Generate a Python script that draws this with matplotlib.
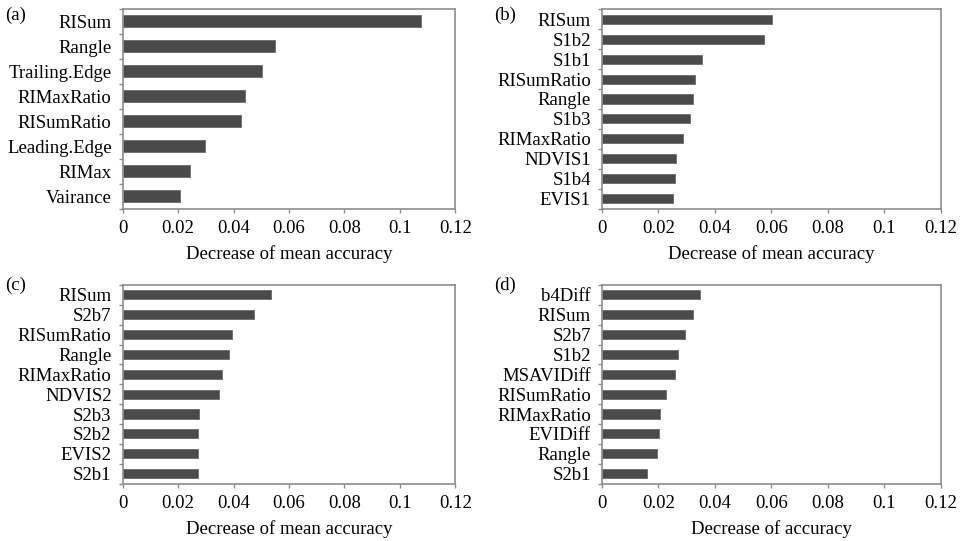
import matplotlib
matplotlib.use("Agg")
import matplotlib.pyplot as plt
import numpy as np

plt.rcParams['font.family'] = ['Liberation Serif', 'DejaVu Serif']

fs = 13.5
bar_color = '#4a4a4a'
spine_color = '#8c8c8c'

# panel data, top-to-bottom as drawn
labels_a = ["RISum", "Rangle", "Trailing.Edge", "RIMaxRatio", "RISumRatio",
            "Leading.Edge", "RIMax", "Vairance"]
values_a = [0.1078, 0.0549, 0.0502, 0.0440, 0.0428, 0.0298, 0.0242, 0.0208]

labels_b = ["RISum", "S1b2", "S1b1", "RISumRatio", "Rangle", "S1b3",
            "RIMaxRatio", "NDVIS1", "S1b4", "EVIS1"]
values_b = [0.0601, 0.0575, 0.0355, 0.0329, 0.0322, 0.0311, 0.0286, 0.0262,
            0.0257, 0.0250]

labels_c = ["RISum", "S2b7", "RISumRatio", "Rangle", "RIMaxRatio", "NDVIS2",
            "S2b3", "S2b2", "EVIS2", "S2b1"]
values_c = [0.0536, 0.0472, 0.0393, 0.0382, 0.0358, 0.0349, 0.0277, 0.0270,
            0.0270, 0.0270]

labels_d = ["b4Diff", "RISum", "S2b7", "S1b2", "MSAVIDiff", "RISumRatio",
            "RIMaxRatio", "EVIDiff", "Rangle", "S2b1"]
values_d = [0.0346, 0.0321, 0.0293, 0.0268, 0.0260, 0.0228, 0.0205, 0.0202,
            0.0195, 0.0159]

xticks = [0, 0.02, 0.04, 0.06, 0.08, 0.1, 0.12]
xticklabels = ["0", "0.02", "0.04", "0.06", "0.08", "0.1", "0.12"]

W, H = 962, 541
fig = plt.figure(figsize=(W / 100, H / 100), dpi=100)


def axes_px(left, right, top, bottom):
    return fig.add_axes([left / W, 1 - bottom / H, (right - left) / W, (bottom - top) / H])


panels = [
    ("(a)", labels_a, values_a, "Decrease of mean accuracy", (122.7, 455.3, 8.6, 208.5), (5, 15)),
    ("(b)", labels_b, values_b, "Decrease of mean accuracy", (602, 941, 9.4, 208.5), (494, 15)),
    ("(c)", labels_c, values_c, "Decrease of mean accuracy", (122.7, 455.3, 285, 483.5), (5, 285)),
    ("(d)", labels_d, values_d, "Decrease of accuracy", (602, 941, 285, 483.5), (494, 285)),
]

for tag, labels, values, xlabel, box, tagpos in panels:
    ax = axes_px(*box)
    n = len(labels)
    y = np.arange(n)[::-1]
    ax.barh(y, values, height=0.46, color=bar_color, edgecolor='#6a6a6a', linewidth=0.6)

    ax.set_xlim(0, 0.12)
    ax.set_ylim(-0.5, n - 0.5)
    ax.set_xticks(xticks)
    ax.set_xticklabels(xticklabels, fontsize=fs)
    ax.set_yticks(y)
    ax.set_yticklabels(labels, fontsize=fs)
    ax.set_yticks(np.arange(-0.5, n, 1.0), minor=True)

    ax.tick_params(axis='y', which='major', length=0, pad=8)
    ax.tick_params(axis='y', which='minor', length=3, width=1, color=spine_color, direction='out')
    ax.tick_params(axis='x', which='major', length=3, width=1, color=spine_color, direction='out', pad=5)

    for s in ax.spines.values():
        s.set_color(spine_color)
        s.set_linewidth(1.2)

    ax.set_xlabel(xlabel, fontsize=fs, labelpad=6)
    fig.text(tagpos[0] / W, 1 - tagpos[1] / H, tag, fontsize=fs, ha='left', va='center')

fig.savefig("out.png", dpi=100)
plt.close(fig)
